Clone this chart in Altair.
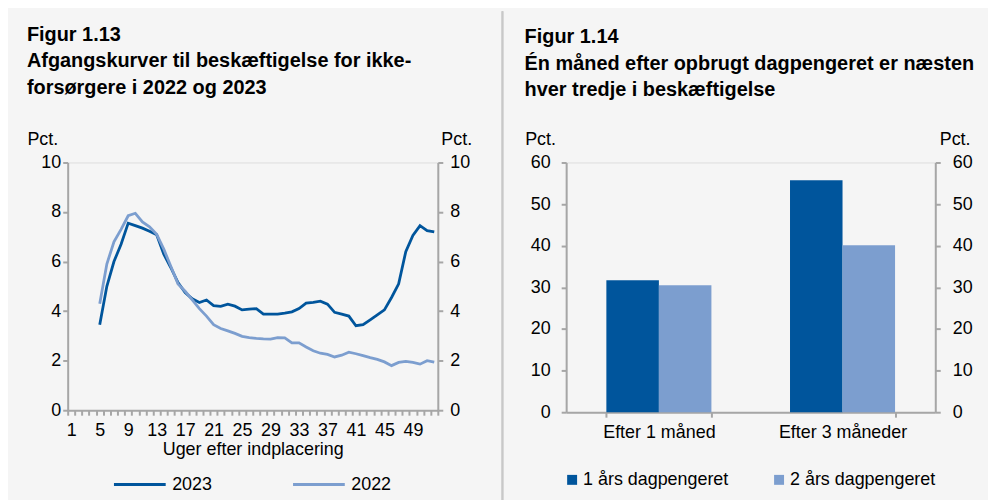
import altair as alt
import pandas as pd

# ---------------- data ----------------
weeks = list(range(1, 53))
data_weeks = list(range(5, 53))
series_2023 = [3.45, 5.0, 6.0, 6.7, 7.55, 7.45, 7.35, 7.22, 7.08, 6.3,
               5.75, 5.15, 4.75, 4.5, 4.35, 4.45, 4.22, 4.19, 4.28, 4.2,
               4.05, 4.08, 4.1, 3.88, 3.88, 3.88, 3.92, 3.97, 4.1, 4.32,
               4.35, 4.4, 4.28, 3.95, 3.88, 3.8, 3.41, 3.45, 3.65, 3.85,
               4.05, 4.55, 5.1, 6.4, 7.05, 7.45, 7.25, 7.2]
series_2022 = [4.3, 5.9, 6.8, 7.3, 7.85, 7.95, 7.6, 7.4, 7.1, 6.5,
               5.8, 5.1, 4.8, 4.45, 4.1, 3.8, 3.45, 3.3, 3.2, 3.1,
               2.98, 2.93, 2.9, 2.88, 2.87, 2.93, 2.92, 2.72, 2.72, 2.55,
               2.4, 2.3, 2.25, 2.15, 2.22, 2.34, 2.28, 2.2, 2.12, 2.05,
               1.95, 1.8, 1.93, 1.97, 1.93, 1.86, 2.0, 1.94]
line_series = ["2023", "2022"]

bar_categories = ["Efter 1 måned", "Efter 3 måneder"]
bar_series = ["1 års dagpengeret", "2 års dagpengeret"]
bar_1aar = [31.7, 55.7]
bar_2aar = [30.5, 40.1]

DARK = "#00559c"
LIGHT = "#7c9ecf"
GRAY = "#a6a6a6"
FONT = "Liberation Sans"
FS = 18
TFS = 20

rows = []
for w, v in zip(data_weeks, series_2023):
    rows.append({"week": w, "value": v, "series": "2023"})
for w, v in zip(data_weeks, series_2022):
    rows.append({"week": w, "value": v, "series": "2022"})
df_lines = pd.DataFrame(rows)

brows = []
for c, a, b in zip(bar_categories, bar_1aar, bar_2aar):
    brows.append({"cat": c, "grp": bar_series[0], "value": a})
    brows.append({"cat": c, "grp": bar_series[1], "value": b})
df_bars = pd.DataFrame(brows)

W = 372
H = 249
W2 = 371
H2 = 251


def ax(**kw):
    base = dict(domainColor=GRAY, domainWidth=2, tickColor=GRAY, tickWidth=2,
                tickSize=5, labelFont=FONT, labelFontSize=FS, labelColor="#000000",
                titleFont=FONT, titleFontSize=FS, titleColor="#000000",
                titleFontWeight="normal", grid=False)
    base.update(kw)
    return alt.Axis(**base)


def pct_axis(orient, values, tx, pad):
    return ax(orient=orient, values=values, title="Pct.", titleAngle=0,
              titleAlign="left", titleBaseline="alphabetic", titleX=tx, titleY=-18,
              labelPadding=pad)


# ---------------- left panel ----------------
x_line = alt.X("week:O",
               scale=alt.Scale(type="band", domain=weeks, paddingInner=0, paddingOuter=0),
               bandPosition=0.5,
               axis=ax(title="Uger efter indplacering", labelAngle=0,
                       labelExpr="(datum.value - 1) % 4 == 0 ? datum.label : ''",
                       labelOverlap=False, tickBand="extent",
                       labelPadding=6, titlePadding=2))

y_scale_l = alt.Scale(domain=[0, 10], nice=False)
yvals_l = [0, 2, 4, 6, 8, 10]

lines = alt.Chart(df_lines).mark_line(strokeWidth=2.8).encode(
    x=x_line,
    y=alt.Y("value:Q", scale=y_scale_l, axis=pct_axis("left", yvals_l, -41, 2)),
    color=alt.Color("series:N", sort=line_series,
                    scale=alt.Scale(domain=line_series, range=[DARK, LIGHT]),
                    legend=alt.Legend(title=None, orient="none", direction="horizontal",
                                      legendX=45, legendY=296, symbolType="stroke",
                                      symbolSize=2704, symbolStrokeWidth=3,
                                      labelFont=FONT, labelFontSize=FS, labelColor="#000",
                                      labelOffset=5, columnPadding=74)),
    detail="series:N",
)

lines_right = alt.Chart(df_lines).mark_line(opacity=0).encode(
    x=x_line,
    y=alt.Y("value:Q", scale=y_scale_l, axis=pct_axis("right", yvals_l, 3, 7)),
    detail="series:N",
)

left = alt.layer(lines, lines_right).resolve_scale(y="independent").properties(
    width=W, height=H,
    title=alt.TitleParams(
        ["Figur 1.13", "Afgangskurver til beskæftigelse for ikke-", "forsørgere i 2022 og 2023"],
        anchor="start", fontSize=TFS, fontWeight="bold", font=FONT, lineHeight=26.5,
        offset=33, color="#000000"),
)

# ---------------- right panel ----------------
x_bar = alt.X("cat:N", sort=bar_categories,
              scale=alt.Scale(domain=bar_categories, paddingInner=0.428, paddingOuter=0.219),
              axis=ax(title=None, labelAngle=0, tickBand="extent", labelPadding=6))
y_scale_r = alt.Scale(domain=[0, 60], nice=False)
yvals_r = [0, 10, 20, 30, 40, 50, 60]

bars = alt.Chart(df_bars).mark_bar().encode(
    x=x_bar,
    xOffset=alt.XOffset("grp:N", sort=bar_series,
                        scale=alt.Scale(domain=bar_series, paddingInner=0, paddingOuter=0)),
    y=alt.Y("value:Q", scale=y_scale_r, axis=pct_axis("left", yvals_r, -41.7, 11)),
    fill=alt.Fill("grp:N", sort=bar_series,
                  scale=alt.Scale(domain=bar_series, range=[DARK, LIGHT]),
                  legend=alt.Legend(title=None, orient="none", direction="horizontal",
                                    legendX=-3, legendY=310, symbolType="square",
                                    symbolSize=100, symbolStrokeWidth=0,
                                    labelFont=FONT, labelFontSize=FS, labelColor="#000",
                                    labelOffset=2, columnPadding=41)),
)

bars_right = alt.Chart(df_bars).mark_bar(opacity=0).encode(
    x=x_bar,
    xOffset=alt.XOffset("grp:N", sort=bar_series),
    y=alt.Y("value:Q", scale=y_scale_r, axis=pct_axis("right", yvals_r, 4, 12)),
)

separator = alt.Chart(df_bars).mark_rule(color="#c8c8c8", strokeWidth=1.5).encode(
    x=alt.value(-64), y=alt.value(-152), y2=alt.value(340)
)

right = alt.layer(bars, bars_right, separator).resolve_scale(y="independent").properties(
    width=W2, height=H2,
    title=alt.TitleParams(
        ["Figur 1.14", "Én måned efter opbrugt dagpengeret er næsten", "hver tredje i beskæftigelse"],
        anchor="start", fontSize=TFS, fontWeight="bold", font=FONT, lineHeight=26.5,
        offset=-90, dx=23, color="#000000"),
)

chart = alt.hconcat(left, right, spacing=28).resolve_scale(
    color="independent", fill="independent"
).resolve_legend(color="independent", fill="independent").properties(
    padding={"left": 18, "top": 0, "right": 12, "bottom": 0},
    background="#f5f5f5",
).configure_view(stroke=None).configure(font=FONT)

chart.save("out.html", embed_options={"renderer": "svg", "actions": False})
